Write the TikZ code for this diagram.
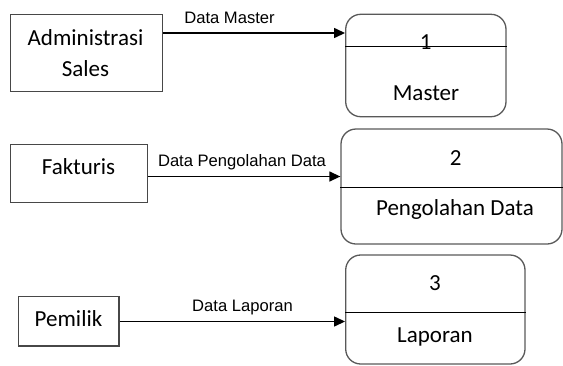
\documentclass[tikz,border=0pt]{standalone}
\usepackage{fontspec}
\setmainfont{Carlito}
\newfontfamily\flowfont{Liberation Sans}
\usetikzlibrary{arrows.meta}
\begin{document}
\begin{tikzpicture}[x=1pt,y=-1pt,
  entity/.style={draw=black!72, line width=1.3pt, inner sep=0pt},
  procbox/.style={draw=black!65, line width=1.3pt, rounded corners=15pt, inner sep=0pt},
  divider/.style={draw=black, line width=1.1pt},
  flow/.style={draw=black, line width=1.4pt, -{Triangle[length=11pt,width=10pt]}},
  nodetext/.style={font=\fontsize{23}{27}\selectfont, anchor=base, inner sep=0pt},
  flowlabel/.style={font=\flowfont\fontsize{16.6}{19}\selectfont, anchor=base, inner sep=0pt}]

\useasboundingbox (0,0) rectangle (563,365);

% external entities
\node[entity, minimum width=152pt, minimum height=77.4pt] (adm) at (86.7,53) {};
\node[entity, minimum width=136.6pt, minimum height=58.4pt] (fak) at (79,173.5) {};
\node[entity, minimum width=100.7pt, minimum height=49.3pt] (pem) at (68.65,321.35) {};

\node[nodetext] (admA) at (85.5,45) {Administrasi};
\node[nodetext] (admB) at (85.5,76) {Sales};
\node[nodetext] (fakT) at (78.5,174.3) {Fakturis};
\node[nodetext] (pemT) at (68.5,326) {Pemilik};

% processes
\node[procbox, minimum width=160.3pt, minimum height=102.4pt] (p1) at (425.85,65.5) {};
\node[procbox, minimum width=221pt, minimum height=115pt] (p2) at (451.5,186.5) {};
\node[procbox, minimum width=179.3pt, minimum height=109pt] (p3) at (435.35,309.5) {};

\coordinate (d1) at (0,46.7);
\coordinate (d2) at (0,187.3);
\coordinate (d3) at (0,312.3);
\draw[divider] (p1.west |- d1) -- (p1.east |- d1);
\draw[divider] (p2.west |- d2) -- (p2.east |- d2);
\draw[divider] (p3.west |- d3) -- (p3.east |- d3);

\node[nodetext] (p1n) at (425.8,49) {1};
\node[nodetext] (p1t) at (426,100.7) {Master};
\node[nodetext] (p2n) at (455.7,165.7) {2};
\node[nodetext] (p2t) at (455,215.7) {Pengolahan Data};
\node[nodetext] (p3n) at (435,290.7) {3};
\node[nodetext] (p3t) at (435,342.3) {Laporan};

% data flows
\coordinate (f1) at (0,33);
\coordinate (f2) at (0,176.5);
\coordinate (f3) at (0,321.5);
\draw[flow] (adm.east |- f1) -- (p1.west |- f1);
\draw[flow] (fak.east |- f2) -- (p2.west |- f2);
\draw[flow] (pem.east |- f3) -- (p3.west |- f3);

\node[flowlabel] (l1) at (229.5,23.3) {Data Master};
\node[flowlabel] (l2) at (242,166.6) {Data Pengolahan Data};
\node[flowlabel] (l3) at (242.5,311) {Data Laporan};
\end{tikzpicture}
\end{document}
